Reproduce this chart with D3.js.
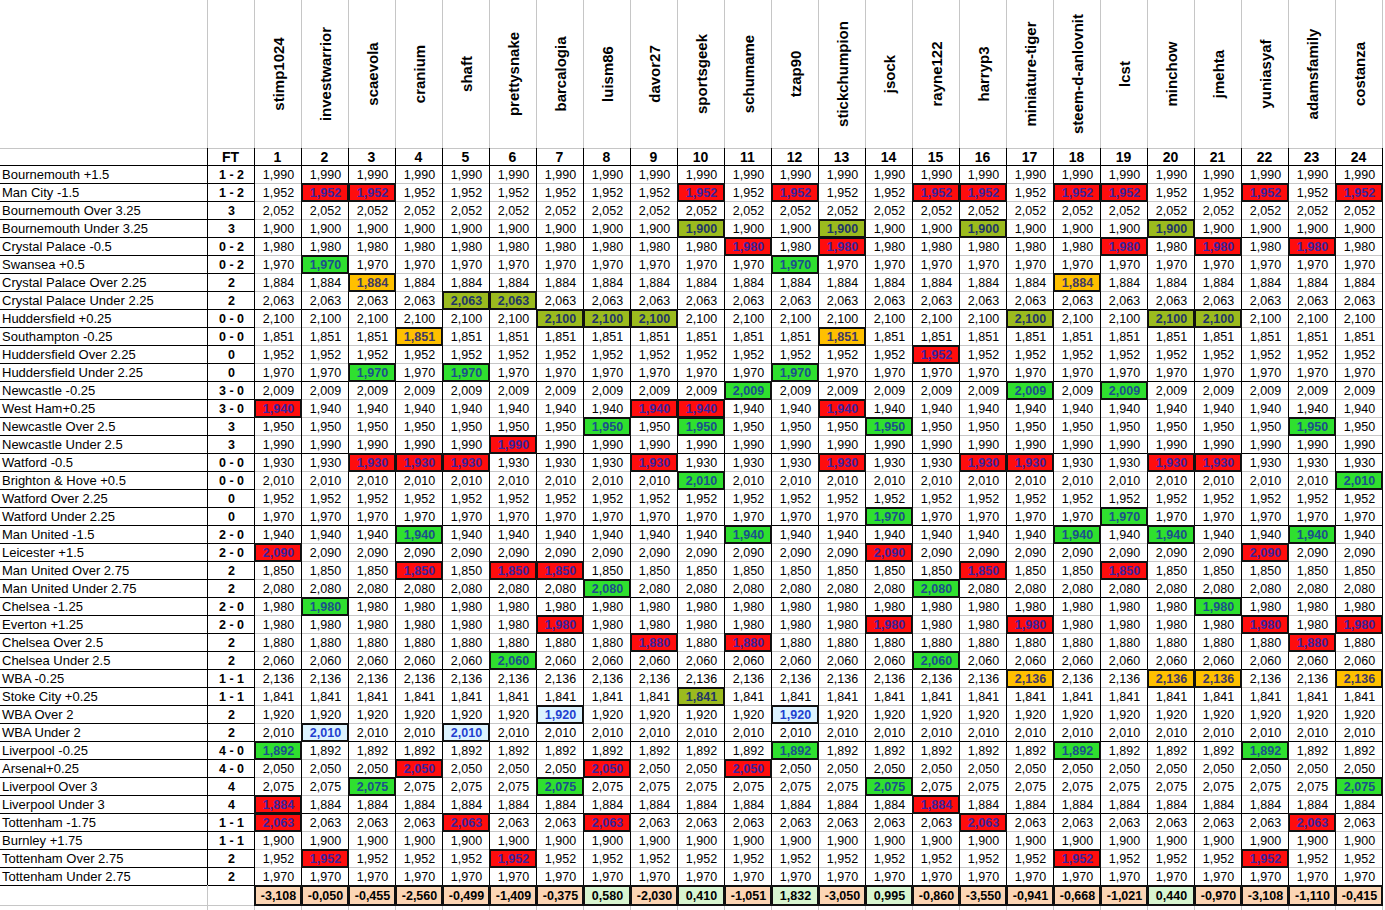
<!DOCTYPE html>
<meta charset="utf-8">
<style>
body { margin: 0; background: #fff; }
svg { display: block; font-family: Arial, "Liberation Sans", sans-serif; }
.name { font-weight: bold; font-size: 15px; fill: #000; }
.colnum { font-family: "Liberation Sans Narrow", "Arial Narrow", Arial, sans-serif; font-weight: bold; font-size: 14px; }
.label { font-size: 13px; }
.ft { font-size: 12.5px; font-weight: bold; }
.val { font-size: 12.5px; }
.val.pick { font-weight: bold; }
.tot { font-size: 12.5px; font-weight: bold; }
line { shape-rendering: crispEdges; }
rect { shape-rendering: crispEdges; }
</style>
<svg width="1385" height="910"></svg>
<script src="https://cdn.jsdelivr.net/npm/d3@7"></script>
<script>

var players = ["stimp1024", "investwarrior", "scaevola", "cranium", "shaft", "prettysnake",
  "barcalogia", "luism86", "davor27", "sportsgeek", "schumame", "tzap90", "stickchumpion",
  "jsock", "rayne122", "harryp3", "miniature-tiger", "steem-d-anlovnit", "lcst", "minchow",
  "jmehta", "yuniasyaf", "adamsfamily", "costanza"];

var rowLabels = ["Bournemouth +1.5", "Man City -1.5", "Bournemouth Over 3.25", "Bournemouth Under 3.25",
  "Crystal Palace -0.5", "Swansea +0.5", "Crystal Palace Over 2.25", "Crystal Palace Under 2.25",
  "Huddersfield +0.25", "Southampton -0.25", "Huddersfield Over 2.25", "Huddersfield Under 2.25",
  "Newcastle -0.25", "West Ham+0.25", "Newcastle Over 2.5", "Newcastle Under 2.5",
  "Watford -0.5", "Brighton & Hove +0.5", "Watford Over 2.25", "Watford Under 2.25",
  "Man United -1.5", "Leicester +1.5", "Man United Over 2.75", "Man United Under 2.75",
  "Chelsea -1.25", "Everton +1.25", "Chelsea Over 2.5", "Chelsea Under 2.5",
  "WBA -0.25", "Stoke City +0.25", "WBA Over 2", "WBA Under 2",
  "Liverpool -0.25", "Arsenal+0.25", "Liverpool Over 3", "Liverpool Under 3",
  "Tottenham -1.75", "Burnley +1.75", "Tottenham Over 2.75", "Tottenham Under 2.75"];

var fullTime = ["1 - 2", "1 - 2", "3", "3", "0 - 2", "0 - 2", "2", "2", "0 - 0", "0 - 0", "0", "0",
  "3 - 0", "3 - 0", "3", "3", "0 - 0", "0 - 0", "0", "0", "2 - 0", "2 - 0", "2", "2",
  "2 - 0", "2 - 0", "2", "2", "1 - 1", "1 - 1", "2", "2", "4 - 0", "4 - 0", "4", "4",
  "1 - 1", "1 - 1", "2", "2"];

// odds x1000, same for every player in a row
var odds = [1990, 1952, 2052, 1900, 1980, 1970, 1884, 2063, 2100, 1851, 1952, 1970,
  2009, 1940, 1950, 1990, 1930, 2010, 1952, 1970, 1940, 2090, 1850, 2080,
  1980, 1980, 1880, 2060, 2136, 1841, 1920, 2010, 1892, 2050, 2075, 1884,
  2063, 1900, 1952, 1970];

// which players picked each line (1-based column), and how it was marked
var pickCols = [[], [2, 3, 10, 12, 15, 16, 18, 19, 22, 24], [], [10, 13, 16, 20],
  [11, 13, 19, 21, 23], [2, 12], [3, 18], [5, 6],
  [7, 8, 9, 17, 20, 21], [4, 13], [15], [3, 5, 12],
  [11, 17, 19], [1, 9, 10, 13], [8, 10, 14, 23], [6],
  [3, 4, 5, 9, 13, 16, 17, 20, 21], [10, 24], [], [14, 19],
  [4, 11, 18, 20, 23], [1, 14, 22], [4, 6, 7, 16, 19], [8, 15],
  [2, 21], [7, 14, 17, 22, 24], [9, 11, 23], [6, 15],
  [17, 20, 21, 24], [10], [7, 12], [2, 5],
  [1, 12, 18, 22], [4, 8, 11], [3, 7, 14, 24], [1, 15],
  [1, 5, 8, 16, 23], [], [2, 6, 18, 22], []];

var pickKind = ["", "R", "", "Y", "R", "G", "O", "Y", "Y", "O", "R", "G",
  "G", "R", "G", "R", "R", "G", "", "G", "G", "R", "R", "G",
  "G", "R", "R", "G", "O", "Y", "B", "B", "G", "R", "G", "R",
  "R", "", "R", ""];

var totals = [-3.108, -0.050, -0.455, -2.560, -0.499, -1.409, -0.375, 0.580, -2.030, 0.410,
  -1.051, 1.832, -3.050, 0.995, -0.860, -3.550, -0.941, -0.668, -1.021, 0.440,
  -0.970, -3.108, -1.110, -0.415];

var svg = d3.select("svg");

var x = d3.scaleBand().domain(d3.range(players.length)).range([254, 1382]);
var y = d3.scaleBand().domain(d3.range(rowLabels.length)).range([165, 885]);
var bw = x.bandwidth(), bh = y.bandwidth();
var ftX0 = 207, ftX1 = 254;
var headTop = 148, totTop = 885, totBot = 905;

var fillOf = d3.scaleOrdinal(["R", "G", "Y", "O", "B"],
  ["#ff0d0d", "#2fe02f", "#9bbb1e", "#ffc000", "#dcf3ff"]);
var inkOf = d3.scaleOrdinal(["R", "G", "Y", "O", "B"],
  ["#3b22a0", "#1b4f8c", "#1f3568", "#3e3866", "#1f3fd0"]);

var fmtOdds = d3.format(",");
var fmtTot = d3.formatLocale({decimal: ",", thousands: ".", grouping: [3], currency: ["", ""], minus: "-"}).format(".3f");

var cells = [];
rowLabels.forEach(function(r, i) {
  players.forEach(function(p, j) {
    var picked = pickCols[i].indexOf(j + 1) >= 0;
    cells.push({row: i, col: j, value: odds[i], kind: picked ? pickKind[i] : ""});
  });
});

var grid = svg.append("g");
var gray = "#c6c6c6";

function hline(x0, x1, yy, color, w) {
  grid.append("line").attr("x1", x0).attr("x2", x1)
    .attr("y1", yy + 0.5).attr("y2", yy + 0.5)
    .attr("stroke", color).attr("stroke-width", w || 1);
}
function vline(xx, y0, y1, color, w) {
  grid.append("line").attr("x1", xx + 0.5).attr("x2", xx + 0.5)
    .attr("y1", y0).attr("y2", y1)
    .attr("stroke", color).attr("stroke-width", w || 1);
}

// header column separators (gray)
vline(ftX0, 0, headTop, gray);
d3.range(players.length + 1).forEach(function(j) { vline(x(0) + j * bw, 0, headTop, gray); });
hline(0, x(0) + players.length * bw, headTop, gray);

// data rows: gray inside a match group, black between groups
d3.range(rowLabels.length + 1).forEach(function(i) {
  var yy = y(0) + i * bh;
  hline(x(0), x(0) + players.length * bw, yy, i % 4 === 0 ? "#000" : gray);
  hline(0, ftX1, yy, "#000");
});
hline(ftX0, x(0) + players.length * bw, y(0), "#000");

// vertical black separators through number row and data
vline(ftX0, headTop, totTop, "#000");
d3.range(players.length + 1).forEach(function(j) { vline(x(0) + j * bw, headTop, totTop, "#000"); });

// empty grid below the table
hline(0, x(0) + players.length * bw, totBot, gray);
vline(ftX0, totTop, 910, gray);
vline(ftX1, totBot, 910, gray);
d3.range(players.length + 1).forEach(function(j) { vline(x(0) + j * bw, totBot, 910, gray); });

// header names
svg.append("g").selectAll("text")
  .data(players)
  .enter().append("text")
    .attr("class", "name")
    .attr("transform", function(d, j) { return "translate(" + (x(j) + bw / 2 + 1) + ",74) rotate(-90)"; })
    .attr("text-anchor", "middle")
    .attr("dominant-baseline", "central")
    .text(function(d) { return d; });

// number row
var numRow = svg.append("g").attr("class", "colnum");
numRow.append("text")
  .attr("x", (ftX0 + ftX1) / 2).attr("y", headTop + 9)
  .attr("text-anchor", "middle").attr("dominant-baseline", "central")
  .text("FT");
numRow.selectAll(".cn")
  .data(players)
  .enter().append("text")
    .attr("class", "cn")
    .attr("x", function(d, j) { return x(j) + bw / 2; })
    .attr("y", headTop + 9)
    .attr("text-anchor", "middle").attr("dominant-baseline", "central")
    .text(function(d, j) { return j + 1; });

// row labels and FT scores
svg.append("g").selectAll("text")
  .data(rowLabels)
  .enter().append("text")
    .attr("class", "label")
    .attr("x", 2)
    .attr("y", function(d, i) { return y(i) + bh / 2; })
    .attr("dominant-baseline", "central")
    .text(function(d) { return d; });

svg.append("g").selectAll("text")
  .data(fullTime)
  .enter().append("text")
    .attr("class", "ft")
    .attr("x", (ftX0 + ftX1) / 2 + 1)
    .attr("y", function(d, i) { return y(i) + bh / 2 + 1; })
    .attr("text-anchor", "middle")
    .attr("dominant-baseline", "central")
    .text(function(d) { return d; });

// picked cells
svg.append("g").selectAll("rect")
  .data(cells.filter(function(c) { return c.kind; }))
  .enter().append("rect")
    .attr("x", function(c) { return x(c.col) + 1; })
    .attr("y", function(c) { return y(c.row) + 1; })
    .attr("width", bw - 1)
    .attr("height", bh - 1)
    .attr("fill", function(c) { return fillOf(c.kind); })
    .attr("stroke", "#111")
    .attr("stroke-width", 2);

svg.append("g").selectAll("text")
  .data(cells)
  .enter().append("text")
    .attr("class", function(c) { return c.kind ? "val pick" : "val"; })
    .attr("x", function(c) { return x(c.col) + bw / 2 + 1; })
    .attr("y", function(c) { return y(c.row) + bh / 2 + 1; })
    .attr("text-anchor", "middle")
    .attr("dominant-baseline", "central")
    .attr("fill", function(c) { return c.kind ? inkOf(c.kind) : "#000"; })
    .text(function(c) { return fmtOdds(c.value); });

// totals row
var tot = svg.append("g");
tot.selectAll("rect")
  .data(totals)
  .enter().append("rect")
    .attr("x", function(d, j) { return x(j) + 1; })
    .attr("y", totTop + 1)
    .attr("width", bw - 1)
    .attr("height", totBot - totTop - 1)
    .attr("fill", function(d) { return d < 0 ? "#fcd5b4" : "#d8f5d0"; })
    .attr("stroke", "#111")
    .attr("stroke-width", 2);
tot.selectAll("text")
  .data(totals)
  .enter().append("text")
    .attr("class", "tot")
    .attr("x", function(d, j) { return x(j) + bw / 2 + 1; })
    .attr("y", (totTop + totBot) / 2 + 1)
    .attr("text-anchor", "middle")
    .attr("dominant-baseline", "central")
    .text(function(d) { return fmtTot(d); });

</script>
